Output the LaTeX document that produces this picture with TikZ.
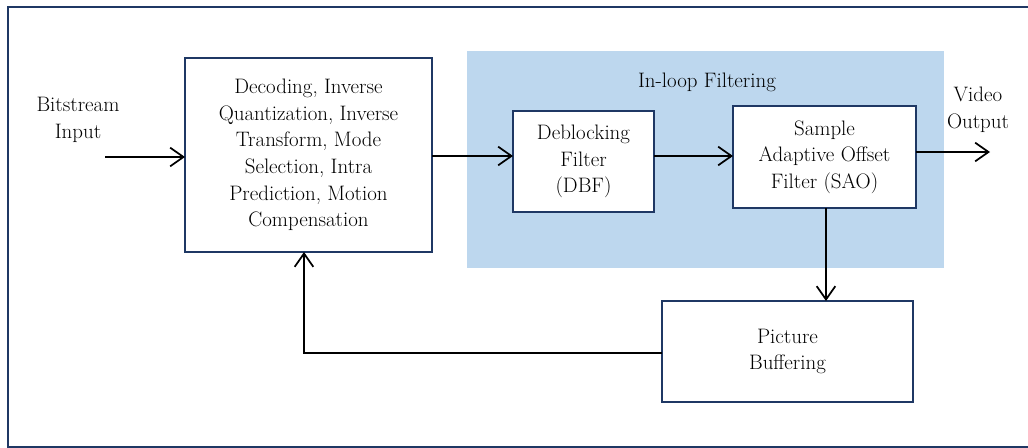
\documentclass[tikz,border=0pt]{standalone}
\usepackage{fontspec}
\usetikzlibrary{arrows.meta}
\definecolor{navy}{RGB}{31,56,100}
\definecolor{loopblue}{RGB}{189,215,238}
\begin{document}
\begin{tikzpicture}[x=0.75pt,y=-0.75pt,
  blk/.style={draw=navy,line width=1.4pt,fill=white,inner sep=0pt,outer sep=0pt,align=center,font=\fontsize{15.7}{20}\selectfont},
  lbl/.style={align=center,inner sep=0pt,font=\fontsize{15.7}{20}\selectfont},
  conn/.style={line width=1.4pt,-{Straight Barb[length=10pt,width=14pt,line width=1.3pt]}}]
\useasboundingbox (0,0) rectangle (1028,448);
\fill[white] (0,0) rectangle (1028,448);
\draw[navy,line width=2pt] (8,7) rectangle (1040,447);
\fill[loopblue] (467,51) rectangle (944,268);
\node[lbl] (loop) at (707,82) {In-loop Filtering};
\node[blk,minimum width=185.25pt,minimum height=145.5pt] (big) at (308.5,155)
  {Decoding, Inverse\\Quantization, Inverse\\Transform, Mode\\Selection, Intra\\Prediction, Motion\\Compensation};
\node[blk,minimum width=105.75pt,minimum height=75.75pt] (dbf) at (583.5,161.5) {Deblocking\\Filter\\(DBF)};
\node[blk,minimum width=137.25pt,minimum height=76.5pt] (sao) at (824.5,157) {Sample\\Adaptive Offset\\Filter (SAO)};
\node[blk,minimum width=188.25pt,minimum height=75.75pt] (pb) at (787.5,351.5) {Picture\\Buffering};
\node[lbl] (bin) at (78,120) {Bitstream\\Input};
\node[lbl] (vout) at (978,110) {Video\\Output};
\coordinate (inS) at (105,157);
\coordinate (outE) at (990,152);
\draw[conn] (inS) -- (big.west |- inS);
\draw[conn] (big.east |- 0,156) -- (dbf.west |- 0,156);
\draw[conn] (dbf.east |- 0,156) -- (sao.west |- 0,156);
\draw[conn] (sao.east |- outE) -- (outE);
\draw[conn] (826,208) -- (826,301);
\draw[conn] (pb.west |- 0,353) -| (304,252);
\end{tikzpicture}
\end{document}
